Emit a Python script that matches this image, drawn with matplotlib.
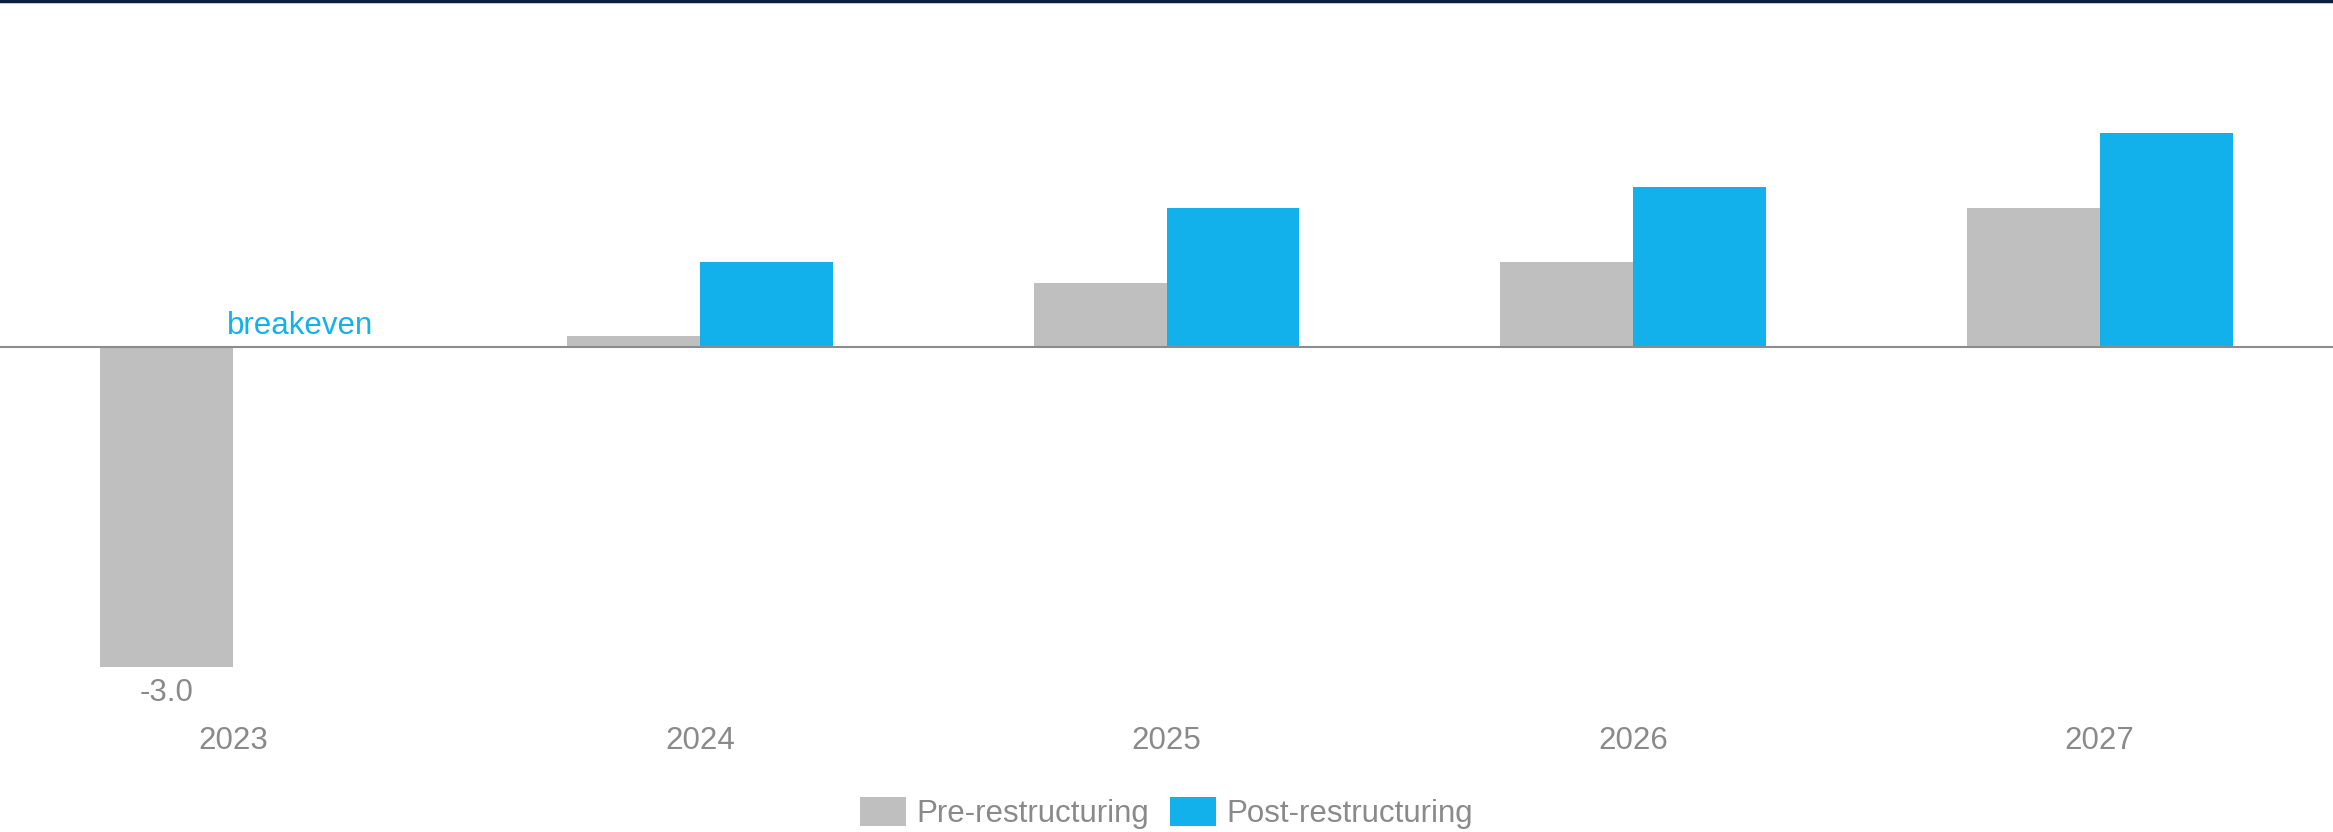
import matplotlib.pyplot as plt
from matplotlib.lines import Line2D
import numpy as np

plt.rcParams['font.family'] = ['Liberation Sans', 'DejaVu Sans']

years = ['2023', '2024', '2025', '2026', '2027']
pre = [-3.0, 0.1, 0.6, 0.8, 1.3]
post = [0.0, 0.8, 1.3, 1.5, 2.0]
labels = ['Pre-restructuring', 'Post-restructuring']

grey = '#bfbfbf'
blue = '#13b1eb'
txt = '#8a8a8a'
fs = 22.5

fig = plt.figure(figsize=(23.33, 8.32), dpi=100)
ax = fig.add_axes([0, 152/832, 1, 680/832])

x = np.arange(len(years))
w = 0.285
ax.bar(x - w/2, pre, w, color=grey, label=labels[0], zorder=2)
ax.bar(x + w/2, post, w, color=blue, label=labels[1], zorder=2)
ax.axhline(0, color='#8c8c8c', lw=1.5, zorder=3)

ax.set_xlim(-0.5, 4.5)
ax.set_ylim(-3.12, 3.25)
for s in ax.spines.values():
    s.set_visible(False)
ax.set_yticks([])
ax.set_xticks(x)
ax.set_xticklabels(years, fontsize=fs, color=txt)
ax.tick_params(axis='x', length=0, pad=33)

# value label for the loss year and breakeven note
ax.annotate('%.1f' % pre[0], (x[0] - w/2, pre[0]), xytext=(0, -8), textcoords='offset points',
            ha='center', va='top', fontsize=fs, color=txt)
ax.annotate('breakeven', (x[0] + w/2, post[0]), xytext=(0, 9), textcoords='offset points',
            ha='center', va='baseline', fontsize=fs, color=blue)

fig.legend(loc='center', bbox_to_anchor=(0.5, 19/832), ncol=2, frameon=False,
           fontsize=fs, labelcolor=txt, handlelength=1.47, handleheight=1.06,
           handletextpad=0.35, columnspacing=0.65)

# dark rule along the top
fig.add_artist(Line2D([0, 1], [0.999, 0.999], transform=fig.transFigure, color='#0b1e3d', lw=2.5))

fig.savefig('out.png', dpi=100)
